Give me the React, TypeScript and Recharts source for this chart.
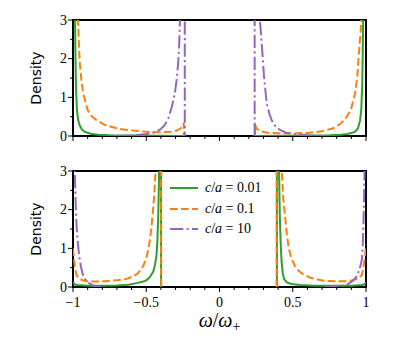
import React from 'react'
import { LineChart, Line, XAxis, YAxis, ReferenceArea, Legend } from 'recharts'

// --- values --------------------------------------------------------------

const xTicks = [-1, -0.9, -0.8, -0.7, -0.6, -0.5, -0.4, -0.3, -0.2, -0.1, 0, 0.1, 0.2, 0.3, 0.4, 0.5, 0.6, 0.7, 0.8, 0.9, 1]
const xMajorTicks = [-1, -0.5, 0, 0.5, 1]
const xTickLabels = ['\u22121', '\u22120.5', '0', '0.5', '1']
const yTicks = [0, 0.5, 1, 1.5, 2, 2.5, 3]
const yMajorTicks = [0, 1, 2, 3]
const yTickLabels = ['0', '1', '2', '3']

const seriesNames = ['c/a = 0.01', 'c/a = 0.1', 'c/a = 10']

// top panel (gap |w| < 0.24)
const topGreenX = [-0.995, -0.99, -0.986, -0.983, -0.979, -0.973, -0.965, -0.955, -0.94, -0.92, -0.88, -0.83, -0.75, -0.6, -0.4, -0.24, -0.24,
  0, 0.24, 0.24, 0.4, 0.6, 0.75, 0.83, 0.87, 0.9, 0.926, 0.945, 0.96, 0.968, 0.974, 0.978, 0.981, 0.986, 0.995]
const topGreenY = [12, 5, 3, 2, 1.2, 0.67, 0.42, 0.28, 0.17, 0.11, 0.06, 0.035, 0.02, 0.01, 0.005, 0.003, 0,
  null, 0, 0.003, 0.005, 0.01, 0.02, 0.035, 0.05, 0.075, 0.11, 0.2, 0.41, 0.7, 1.3, 2.2, 3.2, 6, 12]

const topOrangeX = [-0.995, -0.98, -0.972, -0.966, -0.955, -0.943, -0.93, -0.9, -0.87, -0.84, -0.79, -0.74, -0.68, -0.63, -0.56, -0.5, -0.45, -0.4, -0.33, -0.29, -0.265, -0.25, -0.244, -0.244,
  0, 0.243, 0.243, 0.25, 0.26, 0.28, 0.32, 0.4, 0.5, 0.6, 0.7, 0.776, 0.83, 0.87, 0.9, 0.925, 0.94, 0.948, 0.957, 0.964, 0.97, 0.98, 0.995]
const topOrangeY = [15, 5.5, 3.8, 3, 1.96, 1.45, 1.1, 0.67, 0.5, 0.41, 0.3, 0.24, 0.18, 0.155, 0.13, 0.11, 0.1, 0.1, 0.11, 0.14, 0.2, 0.28, 0.34, 0,
  null, 0, 0.3, 0.22, 0.17, 0.12, 0.09, 0.07, 0.07, 0.08, 0.12, 0.2, 0.33, 0.5, 0.72, 1.1, 1.5, 1.96, 2.4, 2.74, 3.2, 5, 15]

const topPurpleX = [-0.72, -0.62, -0.55, -0.5, -0.44, -0.4, -0.375, -0.35, -0.325, -0.305, -0.29, -0.28, -0.275, -0.27, -0.262, -0.25, -0.237, -0.237,
  0, 0.24, 0.24, 0.25, 0.265, 0.276, 0.288, 0.304, 0.322, 0.34, 0.356, 0.38, 0.413, 0.45, 0.5, 0.55, 0.62, 0.72]
const topPurpleY = [0, 0.01, 0.03, 0.05, 0.1, 0.18, 0.28, 0.45, 0.76, 1.1, 1.53, 2, 2.4, 3, 4.5, 8, 12, 0,
  null, 0, 12, 8, 4.5, 3, 2.4, 1.53, 0.85, 0.58, 0.41, 0.26, 0.155, 0.09, 0.05, 0.03, 0.01, 0]

// bottom panel (gap |w| < 0.4)
const botGreenX = [-1, -0.99, -0.97, -0.9, -0.8, -0.7, -0.62, -0.565, -0.52, -0.497, -0.475, -0.452, -0.44, -0.43, -0.424, -0.418, -0.414, -0.411, -0.405, -0.399, -0.399,
  0, 0.392, 0.392, 0.4, 0.405, 0.412, 0.418, 0.424, 0.432, 0.442, 0.46, 0.49, 0.55, 0.65, 0.8, 0.9, 0.97, 0.99, 1]
const botGreenY = [0.12, 0.07, 0.05, 0.035, 0.03, 0.04, 0.06, 0.1, 0.14, 0.18, 0.26, 0.4, 0.58, 0.83, 1.2, 1.87, 2.6, 3.3, 6, 12, 0,
  null, 0, 12, 6, 3.3, 1.8, 1.1, 0.65, 0.35, 0.2, 0.12, 0.08, 0.05, 0.035, 0.03, 0.035, 0.05, 0.07, 0.12]

const botOrangeX = [-1, -0.993, -0.985, -0.975, -0.96, -0.93, -0.9, -0.862, -0.8, -0.748, -0.69, -0.634, -0.6, -0.565, -0.54, -0.52, -0.5, -0.486, -0.474, -0.463, -0.455, -0.447, -0.436, -0.425, -0.41, -0.398, -0.398,
  0, 0.39, 0.39, 0.4, 0.41, 0.425, 0.435, 0.447, 0.46, 0.474, 0.49, 0.515, 0.54, 0.57, 0.62, 0.707, 0.8, 0.86, 0.9, 0.93, 0.955, 0.97, 0.98, 0.988, 0.995, 1]
const botOrangeY = [1, 0.7, 0.45, 0.3, 0.22, 0.17, 0.15, 0.14, 0.145, 0.16, 0.18, 0.21, 0.26, 0.33, 0.43, 0.55, 0.73, 0.98, 1.25, 1.6, 1.95, 2.3, 3, 4.2, 7, 12, 0,
  null, 0, 12, 8, 5, 3, 2.3, 1.85, 1.35, 0.98, 0.75, 0.54, 0.42, 0.33, 0.24, 0.16, 0.145, 0.15, 0.17, 0.2, 0.24, 0.3, 0.45, 0.65, 0.85, 1.1]

const botPurpleX = [-0.998, -0.993, -0.988, -0.982, -0.976, -0.969, -0.958, -0.946, -0.935, -0.923, -0.905, -0.89, -0.87, -0.843, -0.8,
  0, 0.72, 0.8, 0.85, 0.88, 0.907, 0.925, 0.937, 0.95, 0.962, 0.972, 0.978, 0.982, 0.987, 0.99, 0.995, 0.999]
const botPurpleY = [12, 5, 3, 2.2, 1.6, 1.22, 0.8, 0.53, 0.35, 0.23, 0.15, 0.1, 0.05, 0.015, 0,
  null, 0, 0.01, 0.04, 0.08, 0.15, 0.22, 0.28, 0.4, 0.55, 0.71, 1.1, 1.57, 2.3, 3, 5, 12]

// --- styling --------------------------------------------------------------

const GREEN = '#2ca02c'
const ORANGE = '#ff7f0e'
const PURPLE = '#9467bd'
const colors = [GREEN, ORANGE, PURPLE]
const dashes = [undefined, '7.7 3.3', '13.3 3.3 2.1 3.3']

const SERIF = 'Liberation Serif, serif'
const SANS = 'DejaVu Sans, sans-serif'

const toPoints = (xs: number[], ys: (number | null)[]) => xs.map((x, i) => ({ x, y: ys[i] }))

const near = (a: number, b: number) => Math.abs(a - b) < 1e-6

function XTick({ x, y, payload, showLabel }: any) {
  const v = payload.value
  const idx = xMajorTicks.findIndex(m => near(m, v))
  const major = idx >= 0
  return (
    <g>
      <line x1={x} x2={x} y1={y} y2={y + (major ? 5 : 3)} stroke="#000" strokeWidth={1} />
      {showLabel && major && (
        <text x={x} y={y + 19.5} textAnchor="middle" style={{ fontFamily: SERIF, fontSize: 14 }} fill="#000">
          {xTickLabels[idx]}
        </text>
      )}
    </g>
  )
}

function YTick({ x, y, payload }: any) {
  const v = payload.value
  const idx = yMajorTicks.findIndex(m => near(m, v))
  const major = idx >= 0
  return (
    <g>
      <line x1={x - (major ? 5 : 3)} x2={x} y1={y} y2={y} stroke="#000" strokeWidth={1} />
      {major && (
        <text x={x - 6} y={y + 4.7} textAnchor="end" style={{ fontFamily: SERIF, fontSize: 14 }} fill="#000">
          {yTickLabels[idx]}
        </text>
      )}
    </g>
  )
}

function YLabel({ viewBox }: any) {
  if (!viewBox) return null
  const cx = 36
  const cy = viewBox.y + viewBox.height / 2
  return (
    <text x={cx} y={cy} transform={`rotate(-90 ${cx} ${cy})`} textAnchor="middle" dominantBaseline="central" style={{ fontFamily: SANS, fontSize: 14 }} fill="#000">
      Density
    </text>
  )
}

function XLabel({ viewBox }: any) {
  if (!viewBox) return null
  const cx = viewBox.x + viewBox.width / 2
  return (
    <text x={cx} y={viewBox.y + 40} textAnchor="middle" style={{ fontFamily: SERIF, fontSize: 20 }} fill="#000">
      <tspan fontStyle="italic">ω</tspan>
      <tspan>/</tspan>
      <tspan fontStyle="italic">ω</tspan>
      <tspan fontSize={14} dy={4}>+</tspan>
    </text>
  )
}

function LegendBox() {
  return (
    <div style={{ fontFamily: SERIF, fontSize: 14, color: '#000' }}>
      {seriesNames.map((name, i) => {
        const [lhs, rhs] = name.split(' = ')
        const [c, a] = lhs.split('/')
        return (
          <div key={name} style={{ display: 'flex', alignItems: 'center', height: 20.5 }}>
            <svg width={30} height={10} style={{ display: 'block' }}>
              <line x1={1} x2={29} y1={5} y2={5} stroke={colors[i]} strokeWidth={2} strokeDasharray={dashes[i]} />
            </svg>
            <span style={{ marginLeft: 6, whiteSpace: 'nowrap' }}>
              <i>{c}</i>/<i>{a}</i> = {rhs}
            </span>
          </div>
        )
      })}
    </div>
  )
}

function Panel({ green, orange, purple, bottom }: any) {
  const height = bottom ? 188 : 150
  return (
    <LineChart width={407} height={height} margin={{ top: 20, right: 41, bottom: 0, left: 0 }}>
      <XAxis
        type="number"
        dataKey="x"
        domain={[-1, 1]}
        ticks={xTicks}
        interval={0}
        allowDataOverflow
        axisLine={false}
        tickLine={false}
        tickSize={0}
        tickMargin={0}
        height={bottom ? 52 : 14}
        tick={<XTick showLabel={bottom} />}
        label={bottom ? <XLabel /> : undefined}
      />
      <YAxis
        type="number"
        domain={[0, 3]}
        ticks={yTicks}
        interval={0}
        allowDataOverflow
        width={73}
        axisLine={false}
        tickLine={false}
        tickSize={0}
        tickMargin={0}
        tick={<YTick />}
        label={<YLabel />}
      />
      {[green, orange, purple].map((d: any, i: number) => (
        <Line
          key={i}
          data={d}
          dataKey="y"
          type="linear"
          stroke={colors[i]}
          strokeWidth={2}
          strokeDasharray={dashes[i]}
          dot={false}
          activeDot={false}
          connectNulls={false}
          isAnimationActive={false}
        />
      ))}
      <ReferenceArea x1={-1} x2={1} y1={0} y2={3} fill="none" stroke="#000" strokeWidth={2} ifOverflow="visible" />
      {bottom && (
        <Legend
          layout="vertical"
          align="center"
          verticalAlign="middle"
          content={() => <LegendBox />}
          wrapperStyle={{ left: 169, top: 27, width: 110, height: 62 }}
        />
      )}
    </LineChart>
  )
}

export default function App() {
  return (
    <div style={{ position: 'absolute', left: 0, top: 0, width: 407, height: 339, background: '#fff' }}>
      <div style={{ position: 'absolute', left: 0, top: 0 }}>
        <Panel green={toPoints(topGreenX, topGreenY)} orange={toPoints(topOrangeX, topOrangeY)} purple={toPoints(topPurpleX, topPurpleY)} />
      </div>
      <div style={{ position: 'absolute', left: 0, top: 151 }}>
        <Panel bottom green={toPoints(botGreenX, botGreenY)} orange={toPoints(botOrangeX, botOrangeY)} purple={toPoints(botPurpleX, botPurpleY)} />
      </div>
    </div>
  )
}
